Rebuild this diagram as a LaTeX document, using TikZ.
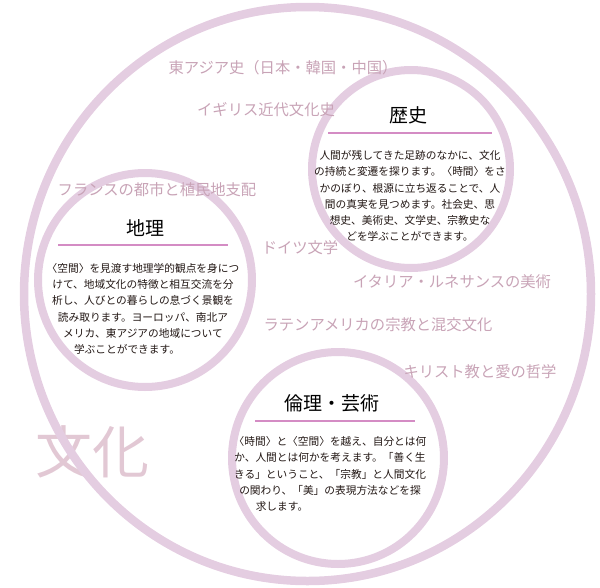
\documentclass[tikz,border=0pt]{standalone}
\usepackage{fontspec}
\usepackage{xcolor}
\usepackage{tikz}
\usetikzlibrary{positioning}
\setmainfont{Noto Sans CJK JP}
\definecolor{ringpink}{RGB}{228,205,225}
\definecolor{rulepink}{RGB}{212,140,196}
\definecolor{topicpink}{RGB}{200,163,182}
\definecolor{bigpink}{RGB}{226,200,212}
\definecolor{inkgray}{RGB}{35,24,21}
\tikzstyle{ring} = [circle, draw=ringpink, line width=8pt, fill=white, inner sep=0pt]
\tikzstyle{title} = [font=\fontsize{19}{19}\selectfont, text=black, inner sep=0pt]
\tikzstyle{body} = [font=\fontsize{10.7}{16.2}\selectfont, align=center, text=inkgray, inner sep=0pt]
\tikzstyle{topic} = [font=\fontsize{15.3}{15.3}\selectfont, text=topicpink, inner sep=0pt]
\tikzstyle{rule} = [draw=rulepink, line width=1.8pt]

\begin{document}
\begin{tikzpicture}[x=1pt,y=-1pt]
        \useasboundingbox (0,0) rectangle (600,587);
        \node[font=\fontsize{57}{57}\selectfont, text=bigpink] (bunka) at (92,452) {文化};
        \draw[draw=ringpink, line width=8.5pt] (307.5,294) ellipse [x radius=283.5, y radius=287];
        \node[ring, minimum size=198pt] (rekishi) at (411,169) {};
        \node[ring, minimum size=214pt] (chiri) at (145,280) {};
        \node[ring, minimum size=212pt] (rinri) at (338,458) {};
        \node[title] (rekishiT) at (408,115) {歴史};
        \draw[rule] (328,133) -- (492,133);
        \node[body] (rekishiB) at (410,196) {人間が残してきた足跡のなかに、文化\\
            の持続と変遷を探ります。〈時間〉をさ\\
            かのぼり、根源に立ち返ることで、人\\
            間の真実を見つめます。社会史、思\\
            想史、美術史、文学史、宗教史な\\
            どを学ぶことができます。};
        \node[title] (chiriT) at (145,228) {地理};
        \draw[rule] (58,245) -- (228,245);
        \node[body] (chiriB) at (143,309) {〈空間〉を見渡す地理学的観点を身につ\\
            けて、地域文化の特徴と相互交流を分\\
            析し、人びとの暮らしの息づく景観を\\
            読み取ります。ヨーロッパ、南北ア\\
            メリカ、東アジアの地域について\\
            学ぶことができます。\hspace*{32pt}};
        \node[title] (rinriT) at (332,403) {倫理・芸術};
        \draw[rule] (255,421) -- (415,421);
        \node[body] (rinriB) at (330,474) {〈時間〉と〈空間〉を越え、自分とは何\\
            か、人間とは何かを考えます。「善く生\\
            きる」ということ、「宗教」と人間文化\\
            の関わり、「美」の表現方法などを探\\
            求します。\hspace*{96pt}};
        \node[topic] (eastasia) at (283,68) {東アジア史（日本・韓国・中国）};
        \node[topic] (england) at (266,110) {イギリス近代文化史};
        \node[topic] (france) at (157,190) {フランスの都市と植民地支配};
        \node[topic] (germany) at (300,248) {ドイツ文学};
        \node[topic] (italy) at (452,282) {イタリア・ルネサンスの美術};
        \node[topic] (latin) at (378,325) {ラテンアメリカの宗教と混交文化};
        \node[topic] (christ) at (480,372) {キリスト教と愛の哲学};
    \end{tikzpicture}
\end{document}
